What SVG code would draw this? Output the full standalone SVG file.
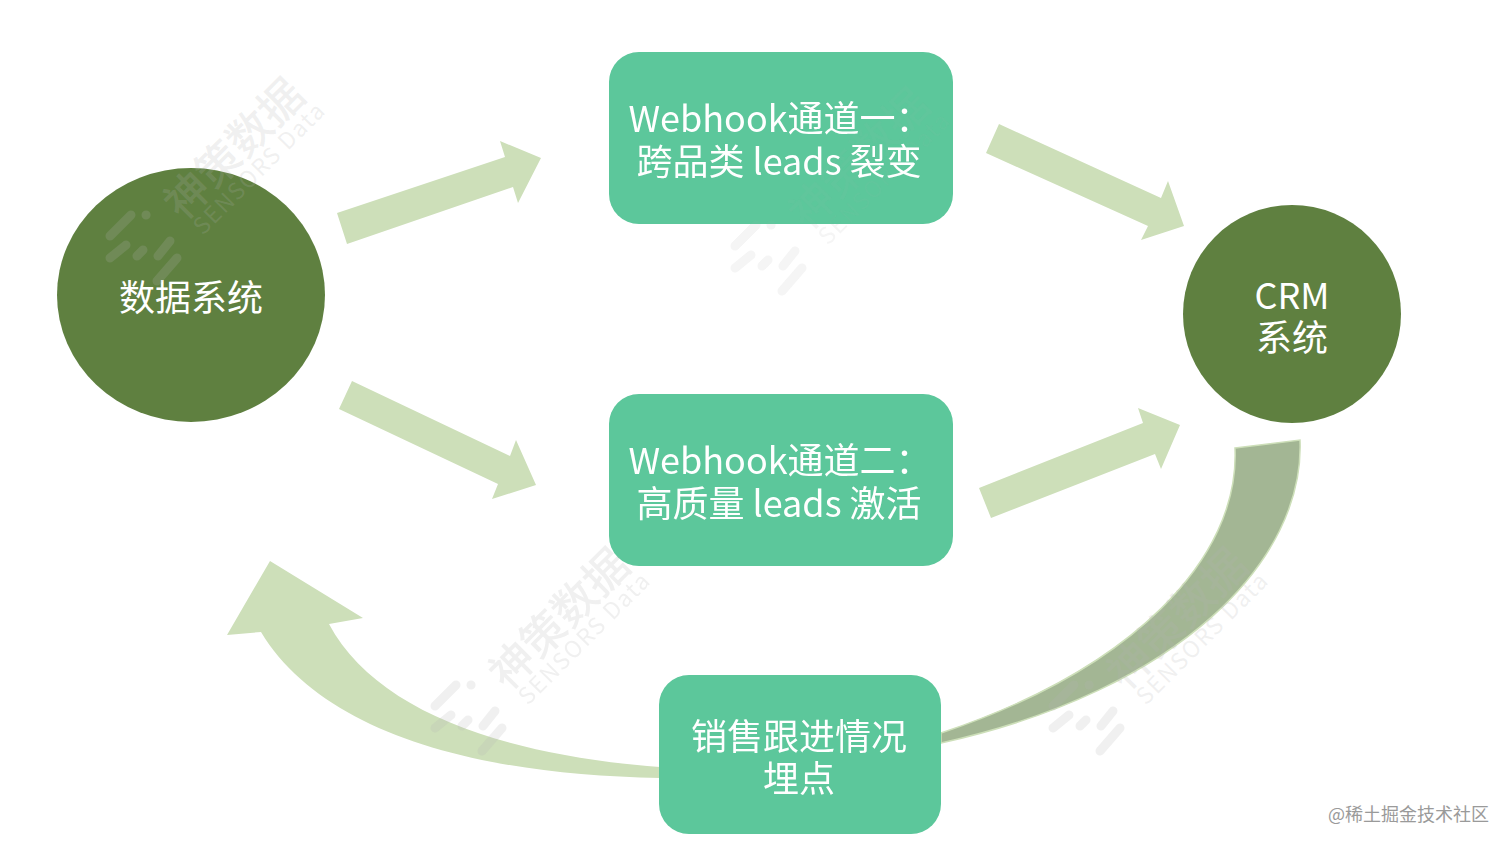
<svg xmlns="http://www.w3.org/2000/svg" width="1512" height="849" viewBox="0 0 1512 849">
<style>
text{font-family:"Noto Sans CJK SC","Noto Sans",sans-serif}
.l{fill:#fff;font-size:36px;text-anchor:middle}
.c{fill:#5f8040}
.b{fill:#5cc79b}
.a{fill:#cddfb9}
.w1{font-size:44px;fill:#b4b4b4;fill-opacity:.2;font-weight:500}
.w2{font-size:23px;fill:#b4b4b4;fill-opacity:.2}
.ws{stroke:#b4b4b4;stroke-opacity:.2;stroke-width:9;stroke-linecap:round;fill:none}
</style>
<defs>
<g id="wm">
<text class="w1" transform="translate(183,222) rotate(-45)">神策数据</text>
<text class="w2" transform="translate(203,236) rotate(-45)" textLength="174">SENSORS Data</text>
<path class="ws" d="M110 236L131 215M110 258L126 245M137 256L143 250M158 256L170 241M157 281L177 258M146 215h.1"/>
</g>
<clipPath id="box1"><rect x="609" y="52" width="344" height="172" rx="30"/></clipPath>
</defs>
<rect width="1512" height="849" fill="#fff"/>
<g id="connectors">
<polygon class="a" points="337,213 505,157 500,141 541,158 518,203 513,187 347,244"/>
<polygon class="a" points="999,124 1161,198 1168,181 1184,226 1141,240 1148,226 986,153"/>
<polygon class="a" points="352,381 510,456 516,440 536,485 492,499 498,484 339,409"/>
<polygon class="a" points="979,488 1143,423 1138,408 1180,425 1161,469 1155,454 991,518"/>
<path fill="#a3b694" stroke="#cddfb9" stroke-width="1.5" d="M1235 448L1300 440C1305 560 1180 690 941 743L941 733C1130 670 1240 560 1235 448Z"/>
<path class="a" d="M270 561L363 618L329 624C375 710 500 755 660 767L660 778C470 775 320 730 261 632L227 635Z"/>
</g>
<g id="node-data"><ellipse class="c" cx="191" cy="295" rx="134" ry="127"/><text class="l" x="191" y="311">数据系统</text></g>
<g id="node-crm"><circle class="c" cx="1292" cy="314" r="109"/><text class="l" x="1292" y="309">CRM</text><text class="l" x="1292" y="351">系统</text></g>
<g id="watermark-top"><use href="#wm" x="625" y="10" opacity=".7"/></g>
<g id="node-webhook1"><rect class="b" x="609" y="52" width="344" height="172" rx="30"/><g clip-path="url(#box1)"><use href="#wm" x="625" y="10" opacity=".25"/></g><text class="l" x="780" y="132">Webhook通道一：</text><text class="l" x="779" y="175">跨品类 leads 裂变</text></g>
<g id="node-webhook2"><rect class="b" x="609" y="394" width="344" height="172" rx="30"/><text class="l" x="780" y="474">Webhook通道二：</text><text class="l" x="779" y="517">高质量 leads 激活</text></g>
<g id="node-tracking"><rect class="b" x="659" y="675" width="282" height="159" rx="30"/><text class="l" x="799" y="750">销售跟进情况</text><text class="l" x="799" y="792">埋点</text></g>
<g id="watermarks">
<use href="#wm"/>
<use href="#wm" x="325" y="470"/>
<use href="#wm" x="943" y="470"/>
</g>
<text x="1328" y="821" font-size="18" fill="#9a9a9a">@稀土掘金技术社区</text>
</svg>
